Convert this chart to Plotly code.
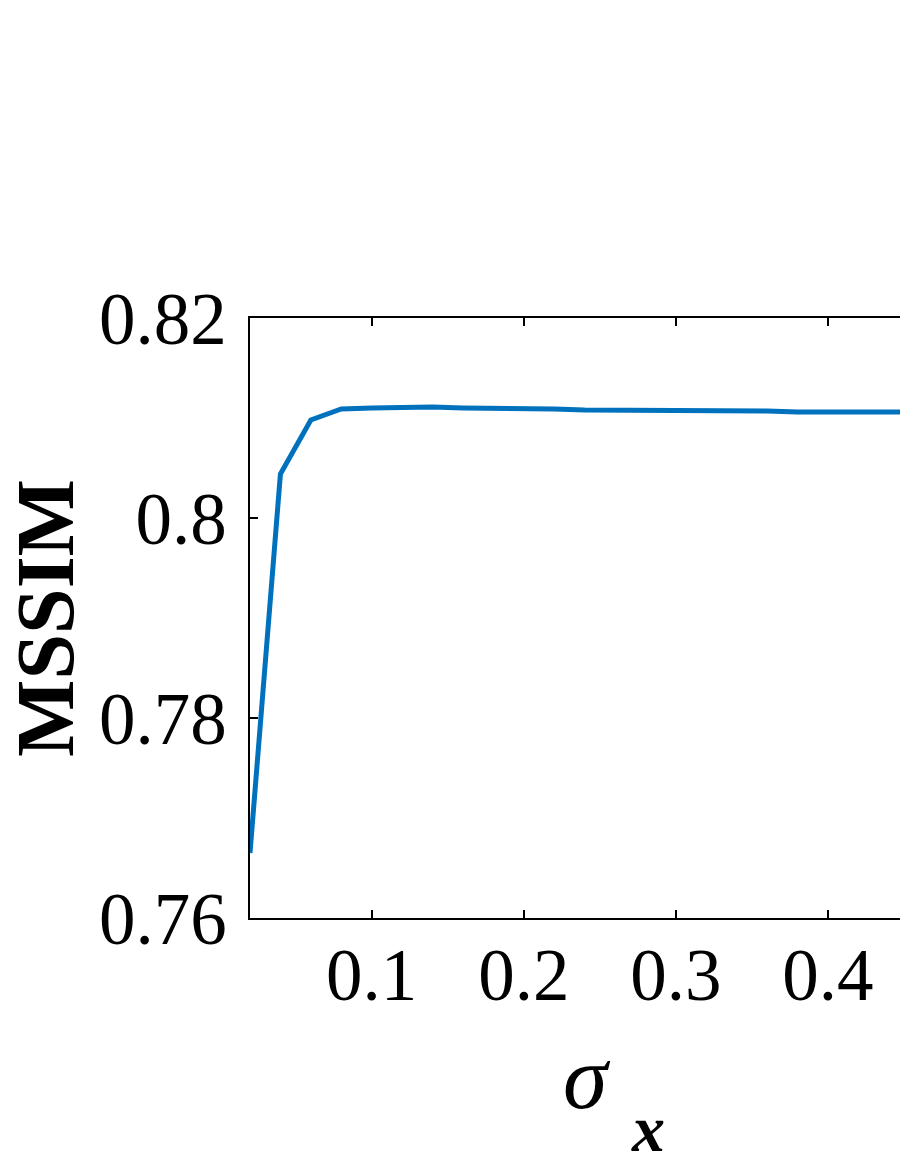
import plotly.graph_objects as go

# sigma_x sweep and the resulting MSSIM
sigma_x = [0.02, 0.04, 0.06, 0.08, 0.10, 0.12, 0.14, 0.16, 0.18, 0.20,
           0.22, 0.24, 0.26, 0.28, 0.30, 0.32, 0.34, 0.36, 0.38, 0.40,
           0.42, 0.44, 0.46, 0.48, 0.50]
mssim = [0.7665, 0.8044, 0.8098, 0.8109, 0.8110, 0.8111, 0.8111, 0.8110, 0.8110, 0.8109,
         0.8109, 0.8108, 0.8108, 0.8107, 0.8107, 0.8107, 0.8107, 0.8107, 0.8106, 0.8106,
         0.8106, 0.8106, 0.8106, 0.8106, 0.8106]

x_ticks = [0.1, 0.2, 0.3, 0.4]
y_ticks = [0.76, 0.78, 0.8, 0.82]
y_tick_labels = ["0.76", "0.78", "0.8", "0.82"]

serif = "Liberation Serif, Times New Roman, serif"

fig = go.Figure(go.Scatter(
    x=sigma_x,
    y=mssim,
    mode="lines",
    line=dict(color="#0072BD", width=5),
))

fig.update_layout(
    width=900,
    height=1164,
    margin=dict(l=250, r=0, t=318, b=246),
    paper_bgcolor="white",
    plot_bgcolor="white",
    showlegend=False,
    font=dict(family=serif, color="black"),
)

fig.update_xaxes(
    range=[0.02, 0.4474],
    tickvals=x_ticks,
    ticktext=[str(v) for v in x_ticks],
    ticks="inside",
    ticklen=8,
    tickwidth=1.5,
    tickcolor="black",
    showline=True,
    linecolor="black",
    linewidth=1.5,
    mirror="ticks",  # top border with ticks
    showgrid=False,
    zeroline=False,
    automargin=False,
    tickfont=dict(size=73, family=serif),
    ticklabelstandoff=-7,
)

fig.update_yaxes(
    range=[0.76, 0.82],
    tickvals=y_ticks,
    ticktext=y_tick_labels,
    ticks="inside",
    ticklen=8,
    tickwidth=1.5,
    tickcolor="black",
    showline=True,
    linecolor="black",
    linewidth=1.5,
    mirror=False,  # right side is cropped off in the original
    showgrid=False,
    zeroline=False,
    automargin=False,
    tickfont=dict(size=73, family=serif),
    ticklabelstandoff=7,
    title=dict(text="<b>MSSIM</b>", font=dict(size=82, family=serif), standoff=14),
)

# x-axis label: sigma with a bold italic x subscript (positions given in pixels)
fig.add_annotation(x=587, y=1077, text="<i>σ</i>",
                   showarrow=False, font=dict(size=90, family=serif))
fig.add_annotation(x=648, y=1128, text="<b><i>x</i></b>",
                   showarrow=False, font=dict(size=66, family=serif))

# convert pixel positions of the label glyphs to paper fractions
for ann in fig.layout.annotations:
    px_x, px_y = ann.x, ann.y
    ann.xref = "paper"
    ann.yref = "paper"
    ann.x = (px_x - 250) / 650
    ann.y = (918 - px_y) / 600
    ann.xanchor = "center"
    ann.yanchor = "middle"

# drop the page margin so the figure sits at the window's corner
fig.write_html(
    "out.html",
    config={"displayModeBar": False},
    post_script="document.body.style.margin='0';document.body.style.overflow='hidden';",
)
